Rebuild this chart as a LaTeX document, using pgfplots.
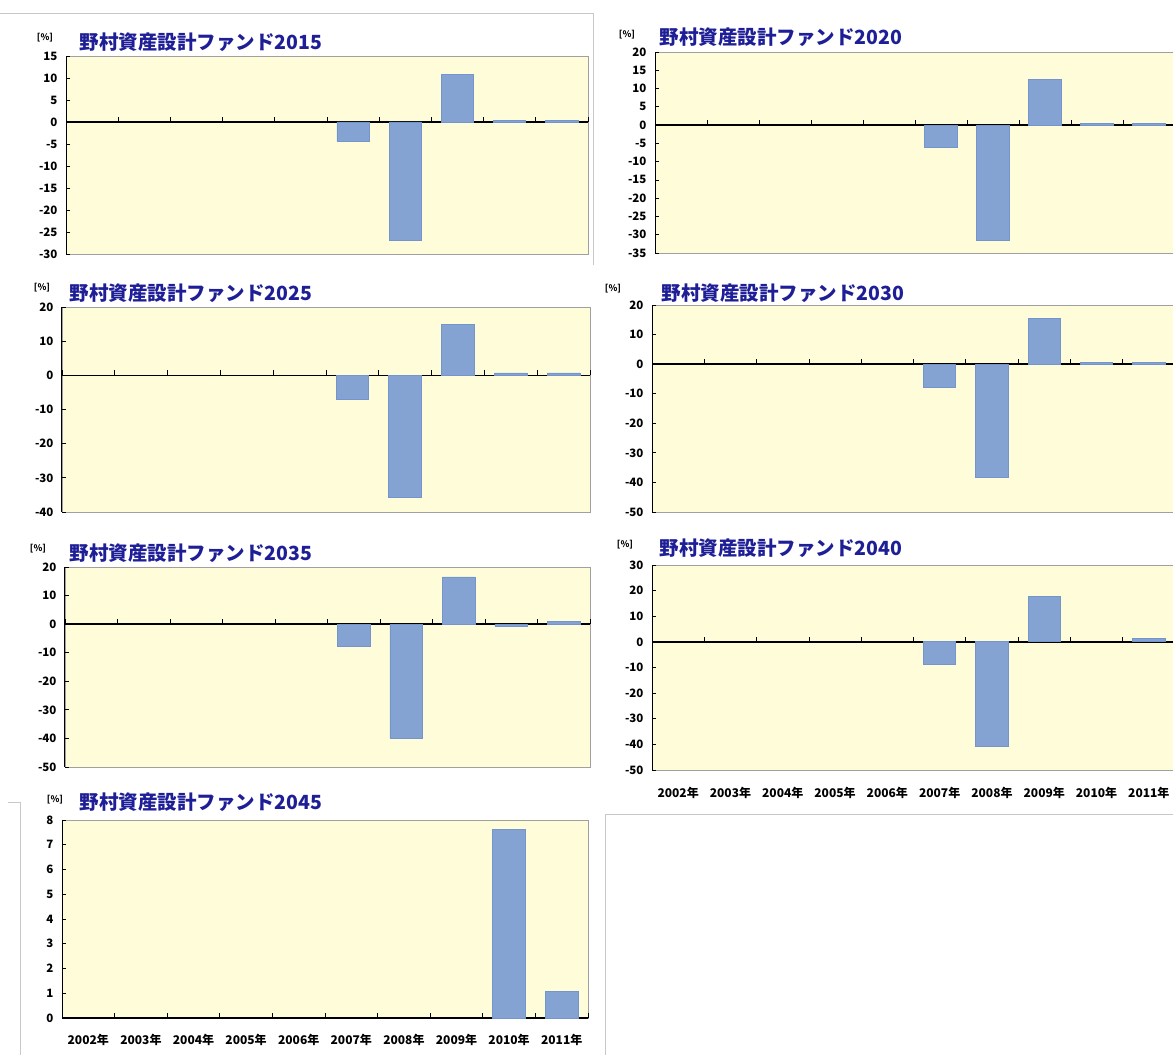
\documentclass[border=0pt]{standalone}
\usepackage{fontspec}
\setmainfont{Noto Sans CJK JP}
\usepackage{pgfplots}
\pgfplotsset{compat=1.18}

\definecolor{plotbg}{HTML}{FFFDD9}
\definecolor{barfill}{HTML}{84A2D2}
\definecolor{baredge}{HTML}{7395CB}
\definecolor{titleblue}{HTML}{1E1E96}
\definecolor{framegray}{HTML}{A0A0A0}
\definecolor{panelgray}{HTML}{C8C8C8}

\newcommand\tickfont{\bfseries\fontsize{11.5}{11.5}\selectfont}
\newcommand\xlabfont{\bfseries\fontsize{12}{12}\selectfont}
\newcommand\titlefont{\bfseries\fontsize{19.5}{19.5}\selectfont}
\newcommand\pctfont{\bfseries\fontsize{9}{9}\selectfont}

\pgfplotsset{
  fundpanel/.style={
    scale only axis,
    anchor=south west,
    ybar, bar width=0.62,
    xmin=-0.5, xmax=9.5,
    axis x line*=middle, axis y line*=left,
    axis line style={-},
    x axis line style={black, line width=1.3pt},
    y axis line style={black, line width=1pt},
    axis background/.style={fill=plotbg, draw=framegray},
    xtick={0,...,9},
    xticklabels={},
    major x tick style={draw=none},
    minor xtick={-0.5,0.5,...,9.5},
    minor x tick style={black, line width=0.8pt},
    minor tick length=5pt,
    xtick align=inside,
    ytick align=inside,
    major y tick style={black, line width=0.8pt},
    major tick length=4pt,
    tick label style={font=\tickfont},
    xticklabel style={font=\xlabfont},
    /pgf/number format/assume math mode=true,
    yticklabel style={xshift=-5pt},
    clip=false,
  },
  yearlabels/.style={
    xticklabels={2002年,2003年,2004年,2005年,2006年,2007年,2008年,2009年,2010年,2011年},
  },
  fundbar/.style={fill=barfill, draw=baredge, line width=0.8pt},
}

\begin{document}
\begin{tikzpicture}[x=1pt,y=1pt]
\useasboundingbox (0,0) rectangle (1173,1055);
\clip (0,0) rectangle (1173,1055);

% panel frames
\draw[panelgray, line width=1pt] (0,1041) -- (593,1041) -- (593,790);
\draw[panelgray, line width=1pt] (8,252) -- (20,252) -- (20,0);
\draw[panelgray, line width=1pt] (605,0) -- (605,240) -- (1173,240);

% 2015
\begin{axis}[fundpanel, at={(66pt,801pt)}, width=522pt, height=198pt,
  ymin=-30, ymax=15, ytick={-30,-25,...,15}]
\addplot[fundbar] coordinates {(5,-4.4) (6,-26.8) (7,10.8) (8,0.4) (9,0.4)};
\end{axis}
\node[font=\pctfont] at (45,1017) {[\%]};
\node[anchor=west, text=titleblue, font=\titlefont] at (76,1013) {野村資産設計ファンド2015};

% 2020
\begin{axis}[fundpanel, at={(655pt,802pt)}, width=520pt, height=201pt,
  ymin=-35, ymax=20, ytick={-35,-30,...,20}]
\addplot[fundbar] coordinates {(5,-6.1) (6,-31.5) (7,12.4) (8,0.5) (9,0.5)};
\end{axis}
\node[font=\pctfont] at (627,1020) {[\%]};
\node[anchor=west, text=titleblue, font=\titlefont] at (656,1018) {野村資産設計ファンド2020};

% 2025
\begin{axis}[fundpanel, at={(62pt,543pt)}, width=528pt, height=205pt,
  ymin=-40, ymax=20, ytick={-40,-30,...,20}]
\addplot[fundbar] coordinates {(5,-6.9) (6,-35.7) (7,15.0) (8,0.7) (9,0.7)};
\end{axis}
\node[font=\pctfont] at (42,767) {[\%]};
\node[anchor=west, text=titleblue, font=\titlefont] at (66,762) {野村資産設計ファンド2025};

% 2030
\begin{axis}[fundpanel, at={(652pt,543pt)}, width=523pt, height=207pt,
  ymin=-50, ymax=20, ytick={-50,-40,...,20}]
\addplot[fundbar] coordinates {(5,-7.9) (6,-38.3) (7,15.5) (8,0.7) (9,0.7)};
\end{axis}
\node[font=\pctfont] at (613,766) {[\%]};
\node[anchor=west, text=titleblue, font=\titlefont] at (658,762) {野村資産設計ファンド2030};

% 2035
\begin{axis}[fundpanel, at={(65pt,288pt)}, width=525pt, height=200pt,
  ymin=-50, ymax=20, ytick={-50,-40,...,20}]
\addplot[fundbar] coordinates {(5,-7.7) (6,-39.9) (7,16.5) (8,-0.9) (9,1.0)};
\end{axis}
\node[font=\pctfont] at (38,506) {[\%]};
\node[anchor=west, text=titleblue, font=\titlefont] at (66,502) {野村資産設計ファンド2035};

% 2040
\begin{axis}[fundpanel, yearlabels, at={(652pt,285pt)}, width=523pt, height=205pt,
  ymin=-50, ymax=30, ytick={-50,-40,...,30},
  xticklabel style={yshift=-142pt}]
\addplot[fundbar] coordinates {(5,-8.7) (6,-40.8) (7,17.7) (9,1.2)};
\end{axis}
\node[font=\pctfont] at (625,510) {[\%]};
\node[anchor=west, text=titleblue, font=\titlefont] at (656,507) {野村資産設計ファンド2040};

% 2045
\begin{axis}[fundpanel, yearlabels, at={(62pt,37pt)}, width=526pt, height=198pt,
  ymin=0, ymax=8, ytick={0,1,...,8},
  xticklabel style={yshift=-13pt}]
\addplot[fundbar] coordinates {(8,7.6) (9,1.06)};
\end{axis}
\node[font=\pctfont] at (55,255) {[\%]};
\node[anchor=west, text=titleblue, font=\titlefont] at (76,253) {野村資産設計ファンド2045};
\end{tikzpicture}
\end{document}
